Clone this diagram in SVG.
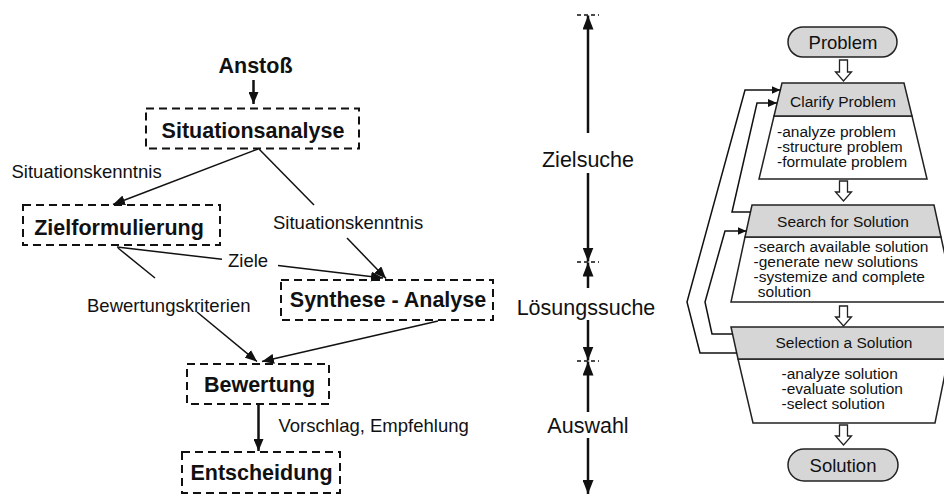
<svg xmlns="http://www.w3.org/2000/svg" width="944" height="500" viewBox="0 0 944 500">
<style>
  .nb { font-family: "Liberation Sans", Arial, sans-serif; font-weight: bold; font-size: 21.5px; fill: #111; text-anchor: middle; }
  .el { font-family: "Liberation Sans", Arial, sans-serif; font-size: 18.5px; fill: #111; }
  .ax { font-family: "Liberation Sans", Arial, sans-serif; font-size: 21.5px; fill: #111; text-anchor: middle; }
  .rt { font-family: "Liberation Sans", Arial, sans-serif; font-size: 15.5px; fill: #111; }
  .rp { font-family: "Liberation Sans", Arial, sans-serif; font-size: 18.5px; fill: #111; text-anchor: middle; }
  .dbox { fill: none; stroke: #111; stroke-width: 2; stroke-dasharray: 8 5; }
  .ln { stroke: #111; stroke-width: 1.5; fill: none; }
  .lnb { stroke: #111; stroke-width: 2.5; fill: none; }
  .tick { stroke: #111; stroke-width: 1.5; stroke-dasharray: 4 3; }
  .hdr { fill: #d6d6d6; stroke: #222; stroke-width: 1.5; }
  .bdy { fill: #fff; stroke: #222; stroke-width: 1.5; }
  .hol { fill: #fff; stroke: #222; stroke-width: 1.3; }
</style>
<defs>
  <marker id="ah" viewBox="0 0 12 10" refX="12" refY="5" markerWidth="12" markerHeight="10" orient="auto" markerUnits="userSpaceOnUse">
    <path d="M0,0 L12,5 L0,10 z" fill="#111"/>
  </marker>
  <marker id="ahv" viewBox="0 0 14 11" refX="14" refY="5.5" markerWidth="14" markerHeight="11" orient="auto" markerUnits="userSpaceOnUse">
    <path d="M0,0 L14,5.5 L0,11 z" fill="#111"/>
  </marker>
  <marker id="ahs" viewBox="0 0 9 8" refX="9" refY="4" markerWidth="9" markerHeight="8" orient="auto" markerUnits="userSpaceOnUse">
    <path d="M0,0 L9,4 L0,8 z" fill="#111"/>
  </marker>
</defs>

<!-- Left diagram nodes -->
<g id="anstoss">
  <text class="nb" x="255.5" y="73">Anstoß</text>
</g>
<g id="situationsanalyse">
  <rect class="dbox" x="146" y="108.5" width="213" height="40"/>
  <text class="nb" x="253" y="137.5">Situationsanalyse</text>
</g>
<g id="zielformulierung">
  <rect class="dbox" x="23" y="205" width="197" height="40"/>
  <text class="nb" x="119" y="235">Zielformulierung</text>
</g>
<g id="synthese">
  <rect class="dbox" x="281" y="280" width="212" height="40"/>
  <text class="nb" x="388" y="306.5">Synthese - Analyse</text>
</g>
<g id="bewertung">
  <rect class="dbox" x="187" y="364" width="142" height="40"/>
  <text class="nb" x="259.5" y="391.5">Bewertung</text>
</g>
<g id="entscheidung">
  <rect class="dbox" x="182" y="452" width="158" height="41"/>
  <text class="nb" x="261.5" y="480">Entscheidung</text>
</g>

<!-- Left diagram connectors -->
<g id="connectors-left">
  <line class="lnb" x1="253.5" y1="80" x2="253.5" y2="104" marker-end="url(#ah)"/>
  <line class="ln" x1="258" y1="149" x2="113" y2="204.5" marker-end="url(#ah)"/>
  <line class="ln" x1="259" y1="149" x2="314" y2="205"/>
  <line class="ln" x1="347" y1="238" x2="386" y2="278.5" marker-end="url(#ah)"/>
  <line class="ln" x1="117" y1="247" x2="222" y2="259.3"/>
  <line class="ln" x1="278" y1="265.5" x2="383" y2="278" marker-end="url(#ah)"/>
  <line class="ln" x1="118" y1="248" x2="155" y2="278"/>
  <line class="ln" x1="197" y1="312" x2="257" y2="361.5" marker-end="url(#ah)"/>
  <line class="ln" x1="438" y1="321" x2="262" y2="361.5" marker-end="url(#ah)"/>
  <line class="lnb" x1="258.5" y1="404" x2="258.5" y2="451" stroke-width="3" marker-end="url(#ah)"/>
  <text class="el" x="11.5" y="178">Situationskenntnis</text>
  <text class="el" x="273" y="229">Situationskenntnis</text>
  <text class="el" x="228" y="267">Ziele</text>
  <text class="el" x="87" y="311.5">Bewertungskriterien</text>
  <text class="el" x="278.5" y="431.5">Vorschlag, Empfehlung</text>
</g>

<!-- Middle axis -->
<g id="axis">
  <line class="tick" x1="577" y1="15" x2="599" y2="15"/>
  <line class="tick" x1="577" y1="262" x2="599" y2="262"/>
  <line class="tick" x1="577" y1="361" x2="599" y2="361"/>
  <line class="lnb" x1="588" y1="133" x2="588" y2="15.5" marker-end="url(#ahv)"/>
  <line class="lnb" x1="588" y1="173" x2="588" y2="261.5" marker-end="url(#ahv)"/>
  <line class="lnb" x1="588" y1="288" x2="588" y2="262.5" marker-end="url(#ahv)"/>
  <line class="lnb" x1="588" y1="320" x2="588" y2="360.5" marker-end="url(#ahv)"/>
  <line class="lnb" x1="588" y1="412" x2="588" y2="361.5" marker-end="url(#ahv)"/>
  <line class="lnb" x1="588" y1="438" x2="588" y2="494" marker-end="url(#ahv)"/>
  <text class="ax" x="588" y="167">Zielsuche</text>
  <text class="ax" x="586" y="315">Lösungssuche</text>
  <text class="ax" x="588" y="433">Auswahl</text>
</g>

<!-- Right diagram nodes -->
<g id="problem">
  <rect class="hdr" x="788" y="27" width="109" height="30" rx="15" ry="15"/>
  <text class="rp" x="843" y="48.5">Problem</text>
</g>
<g id="clarify">
  <polygon class="bdy" points="774,116 912,116 927,179 759,179"/>
  <polygon class="hdr" points="782,83 904,83 912,116 774,116"/>
  <text class="rt" x="843" y="107" text-anchor="middle">Clarify Problem</text>
  <text class="rt" x="777" y="137">-analyze problem</text>
  <text class="rt" x="777" y="152">-structure problem</text>
  <text class="rt" x="777" y="167">-formulate problem</text>
</g>
<g id="search">
  <polygon class="bdy" points="745,237 941,237 955,302 731,302"/>
  <polygon class="hdr" points="752,205 934,205 941,237 745,237"/>
  <text class="rt" x="843" y="227" text-anchor="middle">Search for Solution</text>
  <text class="rt" x="753.5" y="252">-search available solution</text>
  <text class="rt" x="753.5" y="267">-generate new solutions</text>
  <text class="rt" x="753.5" y="282">-systemize and complete</text>
  <text class="rt" x="753.5" y="297" xml:space="preserve"> solution</text>
</g>
<g id="selection">
  <polygon class="bdy" points="738,359 948,359 935,423 753,423"/>
  <polygon class="hdr" points="731,327 955,327 948,359 738,359"/>
  <text class="rt" x="844" y="347.5" text-anchor="middle">Selection a Solution</text>
  <text class="rt" x="781.5" y="379">-analyze solution</text>
  <text class="rt" x="781.5" y="394">-evaluate solution</text>
  <text class="rt" x="781.5" y="409">-select solution</text>
</g>
<g id="solution">
  <rect class="hdr" x="788" y="449" width="110" height="32" rx="16" ry="16"/>
  <text class="rp" x="843" y="471.5">Solution</text>
</g>

<!-- Right diagram connectors -->
<g id="connectors-right">
  <path class="hol" d="M839.5,60 h8 v12 h4 l-8,9 l-8,-9 h4 z"/>
  <path class="hol" d="M839.5,181 h8 v11 h4 l-8,9 l-8,-9 h4 z"/>
  <path class="hol" d="M839.5,306 h8 v11 h4 l-8,9 l-8,-9 h4 z"/>
  <path class="hol" d="M839.5,425 h8 v11 h4 l-8,9 l-8,-9 h4 z"/>
  <path class="ln" d="M737,353 L700,353 L687,302 L745,90 L780.5,90" marker-end="url(#ahs)"/>
  <path class="ln" d="M750.5,212 L732,212 L757,103 L777,103" marker-end="url(#ahs)"/>
  <path class="ln" d="M732.5,334 L712,334 L705,302 L725,231 L746.5,231" marker-end="url(#ahs)"/>
</g>
</svg>
